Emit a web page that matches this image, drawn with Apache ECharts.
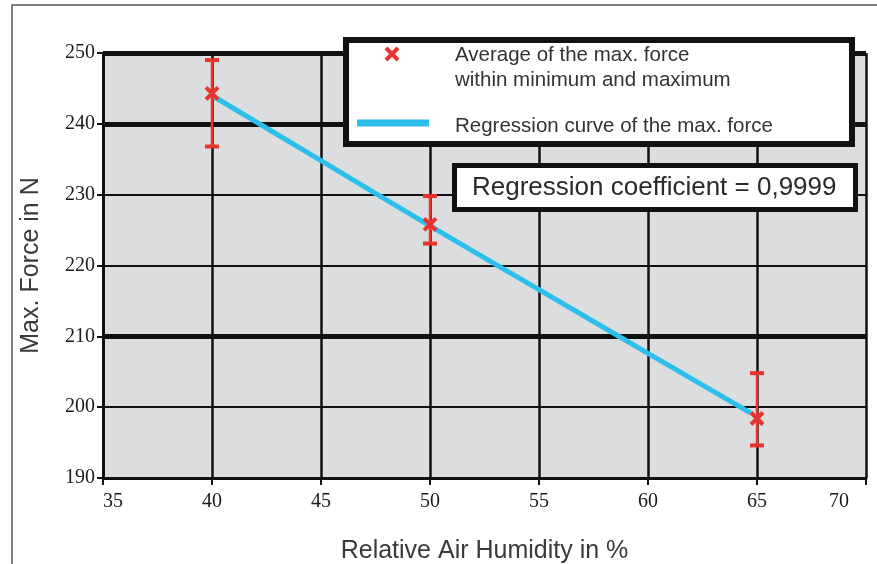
<!DOCTYPE html>
<html>
<head>
<meta charset="utf-8">
<script src="https://cdn.jsdelivr.net/npm/echarts@6/dist/echarts.min.js"></script>
<style>
  html, body { margin: 0; padding: 0; background: #ffffff; }
  #chart { width: 877px; height: 564px; }
</style>
</head>
<body>
<div id="chart"></div>
<script>
// Relative air humidity (%) of each test series
const humidity = [40, 50, 65];
// Average max. force (N) with minimum and maximum
const forceAvg = [244.3, 225.8, 198.4];
const forceMin = [236.8, 223.1, 194.6];
const forceMax = [249.0, 229.8, 204.8];

// Regression curve of the max. force
const regressionX = [40, 45, 50, 55, 60, 64.7];
const regressionY = [244.0, 234.8, 225.6, 216.6, 207.6, 199.2];

// Axis ranges and the emphasised (heavy) grid lines
const xTicks = [35, 40, 45, 50, 55, 60, 65, 70];
const yTicks = [190, 200, 210, 220, 230, 240, 250];
const heavyGridY = [250, 240, 210];

const legendTexts = [
  'Average of the max. force',
  'within minimum and maximum',
  'Regression curve of the max. force'
];
const coefficientText = 'Regression coefficient = 0,9999';

const RED = '#e8342e';
const BLUE = '#2cbfec';
const SANS = '"Liberation Sans", Arial, Helvetica, sans-serif';
const SERIF = '"Liberation Serif", "Times New Roman", serif';

const chart = echarts.init(document.getElementById('chart'), null, { renderer: 'canvas' });

const errorData = humidity.map((h, i) => [h, forceAvg[i], forceMin[i], forceMax[i]]);
const regressionData = regressionX.map((x, i) => [x, regressionY[i]]);

function renderErrorBar(params, api) {
  const x = api.value(0);
  const mean = api.coord([x, api.value(1)]);
  const lo = api.coord([x, api.value(2)]);
  const hi = api.coord([x, api.value(3)]);
  const cap = 7;
  const m = 6;
  const barStyle = { stroke: RED, lineWidth: 2.5 };
  const capStyle = { stroke: RED, lineWidth: 4 };
  const markStyle = { stroke: RED, lineWidth: 4 };
  return {
    type: 'group',
    children: [
      { type: 'line', shape: { x1: hi[0], y1: hi[1], x2: lo[0], y2: lo[1] }, style: barStyle },
      { type: 'line', shape: { x1: hi[0] - cap, y1: hi[1], x2: hi[0] + cap, y2: hi[1] }, style: capStyle },
      { type: 'line', shape: { x1: lo[0] - cap, y1: lo[1], x2: lo[0] + cap, y2: lo[1] }, style: capStyle },
      { type: 'line', shape: { x1: mean[0] - m, y1: mean[1] - m, x2: mean[0] + m, y2: mean[1] + m }, style: markStyle },
      { type: 'line', shape: { x1: mean[0] - m, y1: mean[1] + m, x2: mean[0] + m, y2: mean[1] - m }, style: markStyle }
    ]
  };
}

const option = {
  backgroundColor: '#ffffff',
  animation: false,
  grid: {
    left: 103, right: 11, top: 53, bottom: 86,
    outerBoundsMode: 'none',
    containLabel: false,
    show: true,
    backgroundColor: '#dcdddf',
    borderWidth: 0
  },
  xAxis: {
    type: 'value',
    min: xTicks[0], max: xTicks[xTicks.length - 1], interval: 5,
    name: 'Relative Air Humidity in %',
    nameLocation: 'middle',
    nameGap: 61,
    nameTextStyle: { fontFamily: SANS, fontSize: 25, color: '#3a3a3a' },
    axisLine: { show: true, onZero: false, lineStyle: { color: '#111', width: 3 } },
    axisTick: { show: true, length: 7, lineStyle: { color: '#111', width: 2 } },
    axisLabel: {
      fontFamily: SERIF, fontSize: 20, color: '#1a1a1a', margin: 14,
      alignMinLabel: 'left', alignMaxLabel: 'right',
      formatter: v => (v === xTicks[xTicks.length - 1] ? '{e|' + v + '}' : String(v)),
      rich: { e: { fontFamily: SERIF, fontSize: 20, color: '#1a1a1a', padding: [0, 17, 0, 0] } }
    },
    splitLine: { show: true, lineStyle: { color: '#111', width: 2.5 } }
  },
  yAxis: {
    type: 'value',
    min: yTicks[0], max: yTicks[yTicks.length - 1], interval: 10,
    name: 'Max. Force in N',
    nameLocation: 'middle',
    nameGap: 59,
    nameRotate: 90,
    nameTextStyle: { fontFamily: SANS, fontSize: 25, color: '#3a3a3a' },
    axisLine: { show: true, lineStyle: { color: '#111', width: 3 } },
    axisTick: { show: true, length: 6, lineStyle: { color: '#111', width: 2 } },
    axisLabel: { fontFamily: SERIF, fontSize: 20, color: '#1a1a1a', margin: 8 },
    splitLine: { show: true, lineStyle: { color: '#111', width: 2 } }
  },
  series: [
    {
      name: 'Regression curve of the max. force',
      type: 'line',
      data: regressionData,
      showSymbol: false,
      smooth: true,
      lineStyle: { color: BLUE, width: 5 },
      z: 3,
      markLine: {
        silent: true,
        symbol: ['none', 'none'],
        label: { show: false },
        lineStyle: { color: '#111', width: 5, type: 'solid' },
        data: heavyGridY.map(v => ({ yAxis: v })),
        z: 1
      }
    },
    {
      name: 'Average of the max. force',
      type: 'custom',
      renderItem: renderErrorBar,
      data: errorData,
      encode: { x: 0, y: [1, 2, 3] },
      z: 4
    }
  ],
  graphic: [
    // outer frame
    { type: 'rect', shape: { x: 12, y: 5, width: 900, height: 600 },
      style: { fill: 'none', stroke: '#555', lineWidth: 1.5 }, z: 100 },
    // legend box
    { type: 'rect', shape: { x: 346, y: 40, width: 506, height: 104 },
      style: { fill: '#ffffff', stroke: '#111', lineWidth: 6 }, z: 100 },
    { type: 'line', shape: { x1: 386, y1: 48, x2: 398, y2: 60 },
      style: { stroke: RED, lineWidth: 4 }, z: 101 },
    { type: 'line', shape: { x1: 386, y1: 60, x2: 398, y2: 48 },
      style: { stroke: RED, lineWidth: 4 }, z: 101 },
    { type: 'line', shape: { x1: 357, y1: 123, x2: 429, y2: 123 },
      style: { stroke: BLUE, lineWidth: 7 }, z: 101 },
    { type: 'text', x: 455, y: 55, z: 101,
      style: { text: legendTexts[0], font: '20.5px ' + SANS, fill: '#333', verticalAlign: 'middle' } },
    { type: 'text', x: 455, y: 80, z: 101,
      style: { text: legendTexts[1], font: '20.5px ' + SANS, fill: '#333', verticalAlign: 'middle' } },
    { type: 'text', x: 455, y: 126, z: 101,
      style: { text: legendTexts[2], font: '20.5px ' + SANS, fill: '#333', verticalAlign: 'middle' } },
    // regression coefficient box
    { type: 'rect', shape: { x: 454.5, y: 165.5, width: 401, height: 44 },
      style: { fill: '#ffffff', stroke: '#111', lineWidth: 5 }, z: 100 },
    { type: 'text', x: 472, y: 188, z: 101,
      style: { text: coefficientText, font: '26px ' + SANS, fill: '#2a2a2a', verticalAlign: 'middle' } }
  ]
};

chart.setOption(option);
</script>
</body>
</html>
